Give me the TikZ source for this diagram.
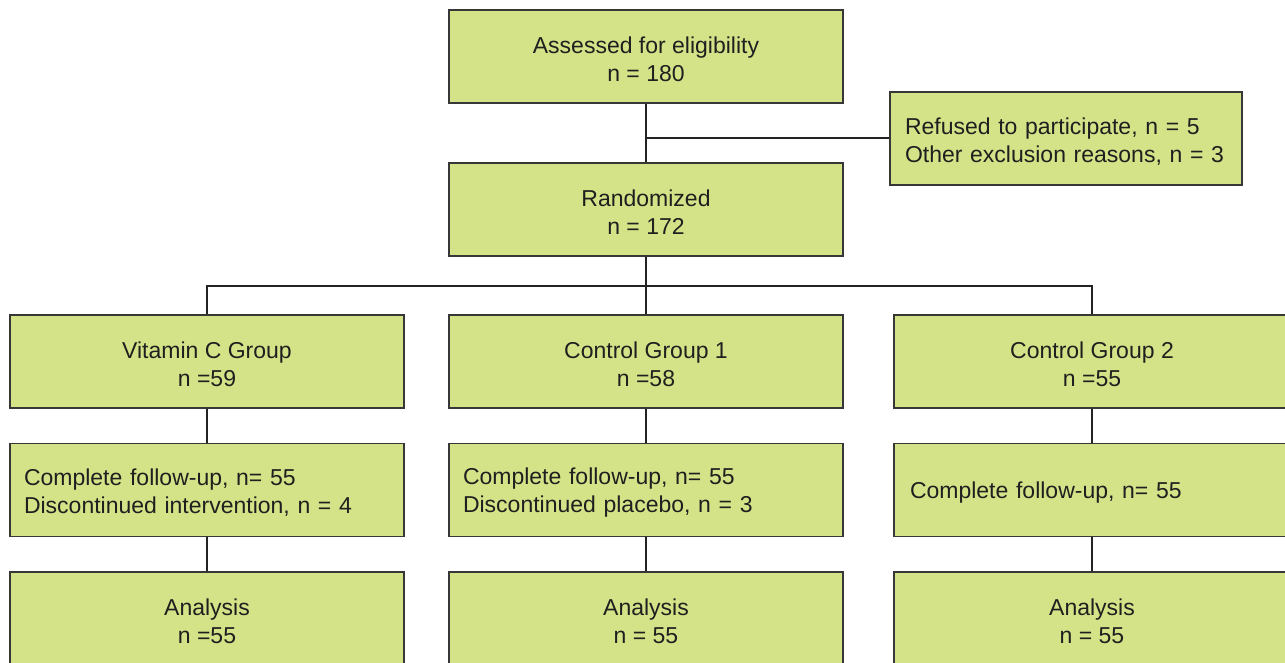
\documentclass[tikz,border=0pt]{standalone}
\usepackage{fontspec}
\setmainfont{Liberation Sans}
\definecolor{boxfill}{RGB}{213,227,136}
\definecolor{boxline}{RGB}{55,55,55}
\definecolor{conn}{RGB}{35,35,35}
\begin{document}
\begin{tikzpicture}[x=1pt,y=-1pt,
  box/.style={draw=boxline, line width=1.8pt, fill=boxfill, minimum width=394pt, minimum height=93pt, inner sep=0pt},
  txt/.style={inner sep=0pt, align=center, text=black!88, font=\fontsize{23}{28}\selectfont, yshift=-3pt},
  ltxt/.style={txt, text width=#1, align=left},
  link/.style={draw=conn, line width=2pt}]
\useasboundingbox (0,0) rectangle (1285,663);
\fill[white] (0,0) rectangle (1285,663);
\clip (0,0) rectangle (1285,663);

\node[box, label={[txt]center:{Assessed for eligibility\\n = 180}}] (ass) at (646,56.5) {};
\node[box, label={[txt]center:{Randomized\\n = 172}}] (rand) at (646,209.5) {};
\node[box, minimum width=352pt, label={[ltxt=322pt]center:{Refused to participate, n = 5\\Other exclusion reasons, n = 3}}] (ref) at (1066,138.5) {};

\node[box, label={[txt]center:{Vitamin C Group\\n =59}}] (vit) at (207,361.5) {};
\node[box, label={[txt]center:{Control Group 1\\n =58}}] (cg1) at (646,361.5) {};
\node[box, minimum width=396pt, label={[txt]center:{Control Group 2\\n =55}}] (cg2) at (1092,361.5) {};

\node[box, label={[ltxt=366pt]center:{Complete follow-up, n= 55\\Discontinued intervention, n = 4}}] (fu1) at (207,490) {};
\node[box, label={[ltxt=366pt]center:{Complete follow-up, n= 55\\Discontinued placebo, n = 3}}] (fu2) at (646,490) {};
\node[box, minimum width=396pt, label={[ltxt=364pt]center:{Complete follow-up, n= 55}}] (fu3) at (1092,490) {};

\node[box, label={[txt]center:{Analysis\\n =55}}] (an1) at (207,618.5) {};
\node[box, label={[txt]center:{Analysis\\n = 55}}] (an2) at (646,618.5) {};
\node[box, minimum width=396pt, label={[txt]center:{Analysis\\n = 55}}] (an3) at (1092,618.5) {};

\coordinate (split) at (646,286);
\path[link] (ass) -- (rand);
\path[link] (ref.west) -- (ref.west -| ass.south);
\path[link] (rand.south) -- (cg1.north);
\path[link] (vit.north) |- (split) -| (cg2.north);
\path[link] (vit) -- (fu1);
\path[link] (cg1) -- (fu2);
\path[link] (cg2) -- (fu3);
\path[link] (fu1) -- (an1);
\path[link] (fu2) -- (an2);
\path[link] (fu3) -- (an3);
\end{tikzpicture}
\end{document}
